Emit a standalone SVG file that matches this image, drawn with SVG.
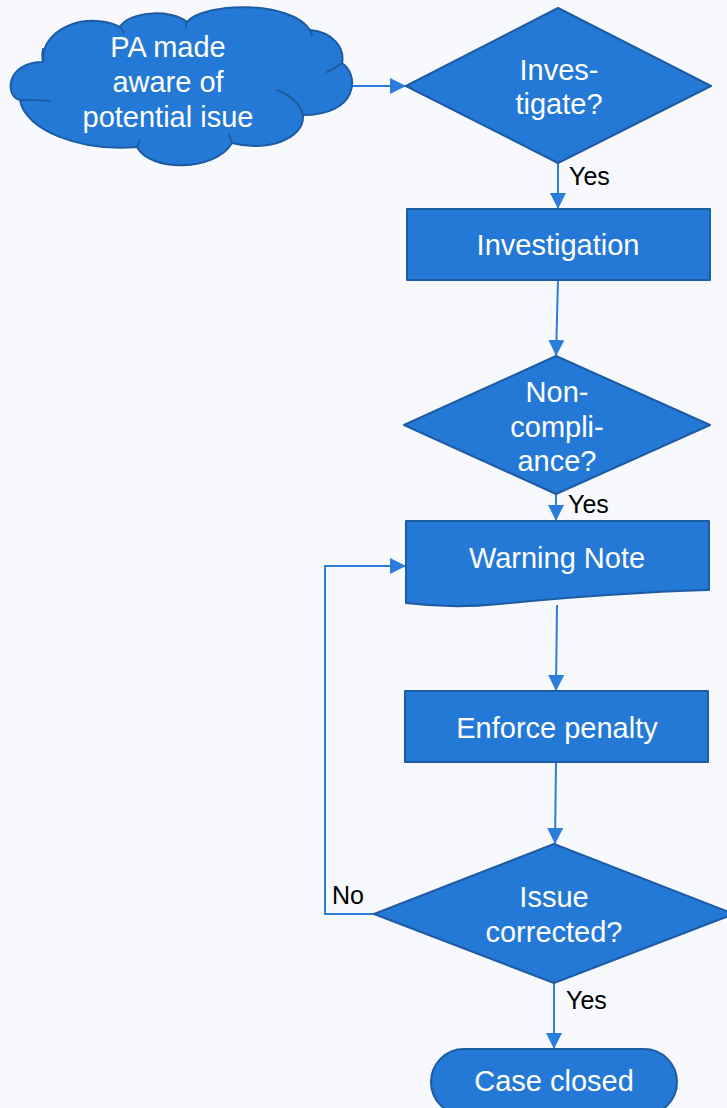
<svg xmlns="http://www.w3.org/2000/svg" width="727" height="1108" viewBox="0 0 727 1108">
<defs>
<style>
.shape{fill:#2479d6;stroke:#1d5ba3;stroke-width:2;stroke-linejoin:round}
.inner{fill:none;stroke:#1d5ba3;stroke-width:2;stroke-linecap:round}
.edge{fill:none;stroke:#2a7ddb;stroke-width:2}
.t{font-family:"Liberation Sans",Arial,sans-serif;font-size:29px;fill:#ffffff;text-anchor:middle}
.lbl{font-family:"Liberation Sans",Arial,sans-serif;font-size:25px;fill:#000000}
</style>
<marker id="arr" markerUnits="userSpaceOnUse" markerWidth="16" markerHeight="16" refX="16" refY="8" orient="auto">
<path d="M0,0 L16,8 L0,16 Z" fill="#2a7ddb"/>
</marker>
</defs>
<rect x="0" y="0" width="727" height="1108" fill="#f7f9fd"/>

<g id="connectors">
<path class="edge" d="M350,86 L406,86" marker-end="url(#arr)"/>
<path class="edge" d="M558,163 L558,209" marker-end="url(#arr)"/>
<path class="edge" d="M558,280 L556,356" marker-end="url(#arr)"/>
<path class="edge" d="M556,494 L556,521" marker-end="url(#arr)"/>
<path class="edge" d="M557,605 L556,691" marker-end="url(#arr)"/>
<path class="edge" d="M556,762 L555,844" marker-end="url(#arr)"/>
<path class="edge" d="M374,914 L325,914 L325,566 L406,566" marker-end="url(#arr)"/>
<path class="edge" d="M554,983 L554,1049" marker-end="url(#arr)"/>
<text class="lbl" x="569" y="185">Yes</text>
<text class="lbl" x="568" y="513">Yes</text>
<text class="lbl" x="332" y="904">No</text>
<text class="lbl" x="566" y="1009">Yes</text>
</g>

<g id="node-cloud">
<path class="shape" d="M43,62 C40,30 85,10 120,27 C128,12 170,8 187,22 C205,2 290,0 310,30 C333,32 345,48 342,63 C360,75 358,115 303,115 C305,140 265,152 232,143 C215,172 150,172 137,147 C80,152 25,130 20,100 C5,97 5,62 43,62 Z"/>
<path class="inner" d="M43,62 C42,57 42,53 43,49"/>
<path class="inner" d="M120,27 C122,29 123,31 124,33"/>
<path class="inner" d="M187,22 C186,24 186,26 186,28"/>
<path class="inner" d="M310,30 C311,32 312,34 312,36"/>
<path class="inner" d="M342,63 C337,67 332,70 327,72"/>
<path class="inner" d="M277,90 C290,95 300,104 303,115"/>
<path class="inner" d="M232,143 C231,140 230,137 229,135"/>
<path class="inner" d="M137,147 C138,145 139,142 140,140"/>
<path class="inner" d="M20,100 C30,100 40,100 50,101"/>
<text class="t" x="168" y="57">PA made</text>
<text class="t" x="168" y="92">aware of</text>
<text class="t" x="168" y="127">potential isue</text>
</g>

<g id="node-investigate">
<polygon class="shape" points="558,8 711,86 558,163 406,86"/>
<text class="t" x="559" y="80">Inves-</text>
<text class="t" x="559" y="114">tigate?</text>
</g>

<g id="node-investigation">
<rect class="shape" x="407" y="209" width="303" height="71"/>
<text class="t" x="558" y="255">Investigation</text>
</g>

<g id="node-noncompliance">
<polygon class="shape" points="556,356 710,425 556,494 404,425"/>
<text class="t" x="557" y="402">Non-</text>
<text class="t" x="557" y="437">compli-</text>
<text class="t" x="557" y="471">ance?</text>
</g>

<g id="node-warning">
<path class="shape" d="M406,521 L709,521 L709,590 C640,592 560,598 500,604 C460,608 430,606 406,603 Z"/>
<text class="t" x="557" y="568">Warning Note</text>
</g>

<g id="node-penalty">
<rect class="shape" x="405" y="691" width="303" height="71"/>
<text class="t" x="557" y="738">Enforce penalty</text>
</g>

<g id="node-corrected">
<polygon class="shape" points="554,844 734,914 554,983 374,914"/>
<text class="t" x="554" y="907">Issue</text>
<text class="t" x="554" y="942">corrected?</text>
</g>

<g id="node-closed">
<rect class="shape" x="431" y="1049" width="246" height="66" rx="33" ry="33"/>
<text class="t" x="554" y="1091">Case closed</text>
</g>
</svg>
